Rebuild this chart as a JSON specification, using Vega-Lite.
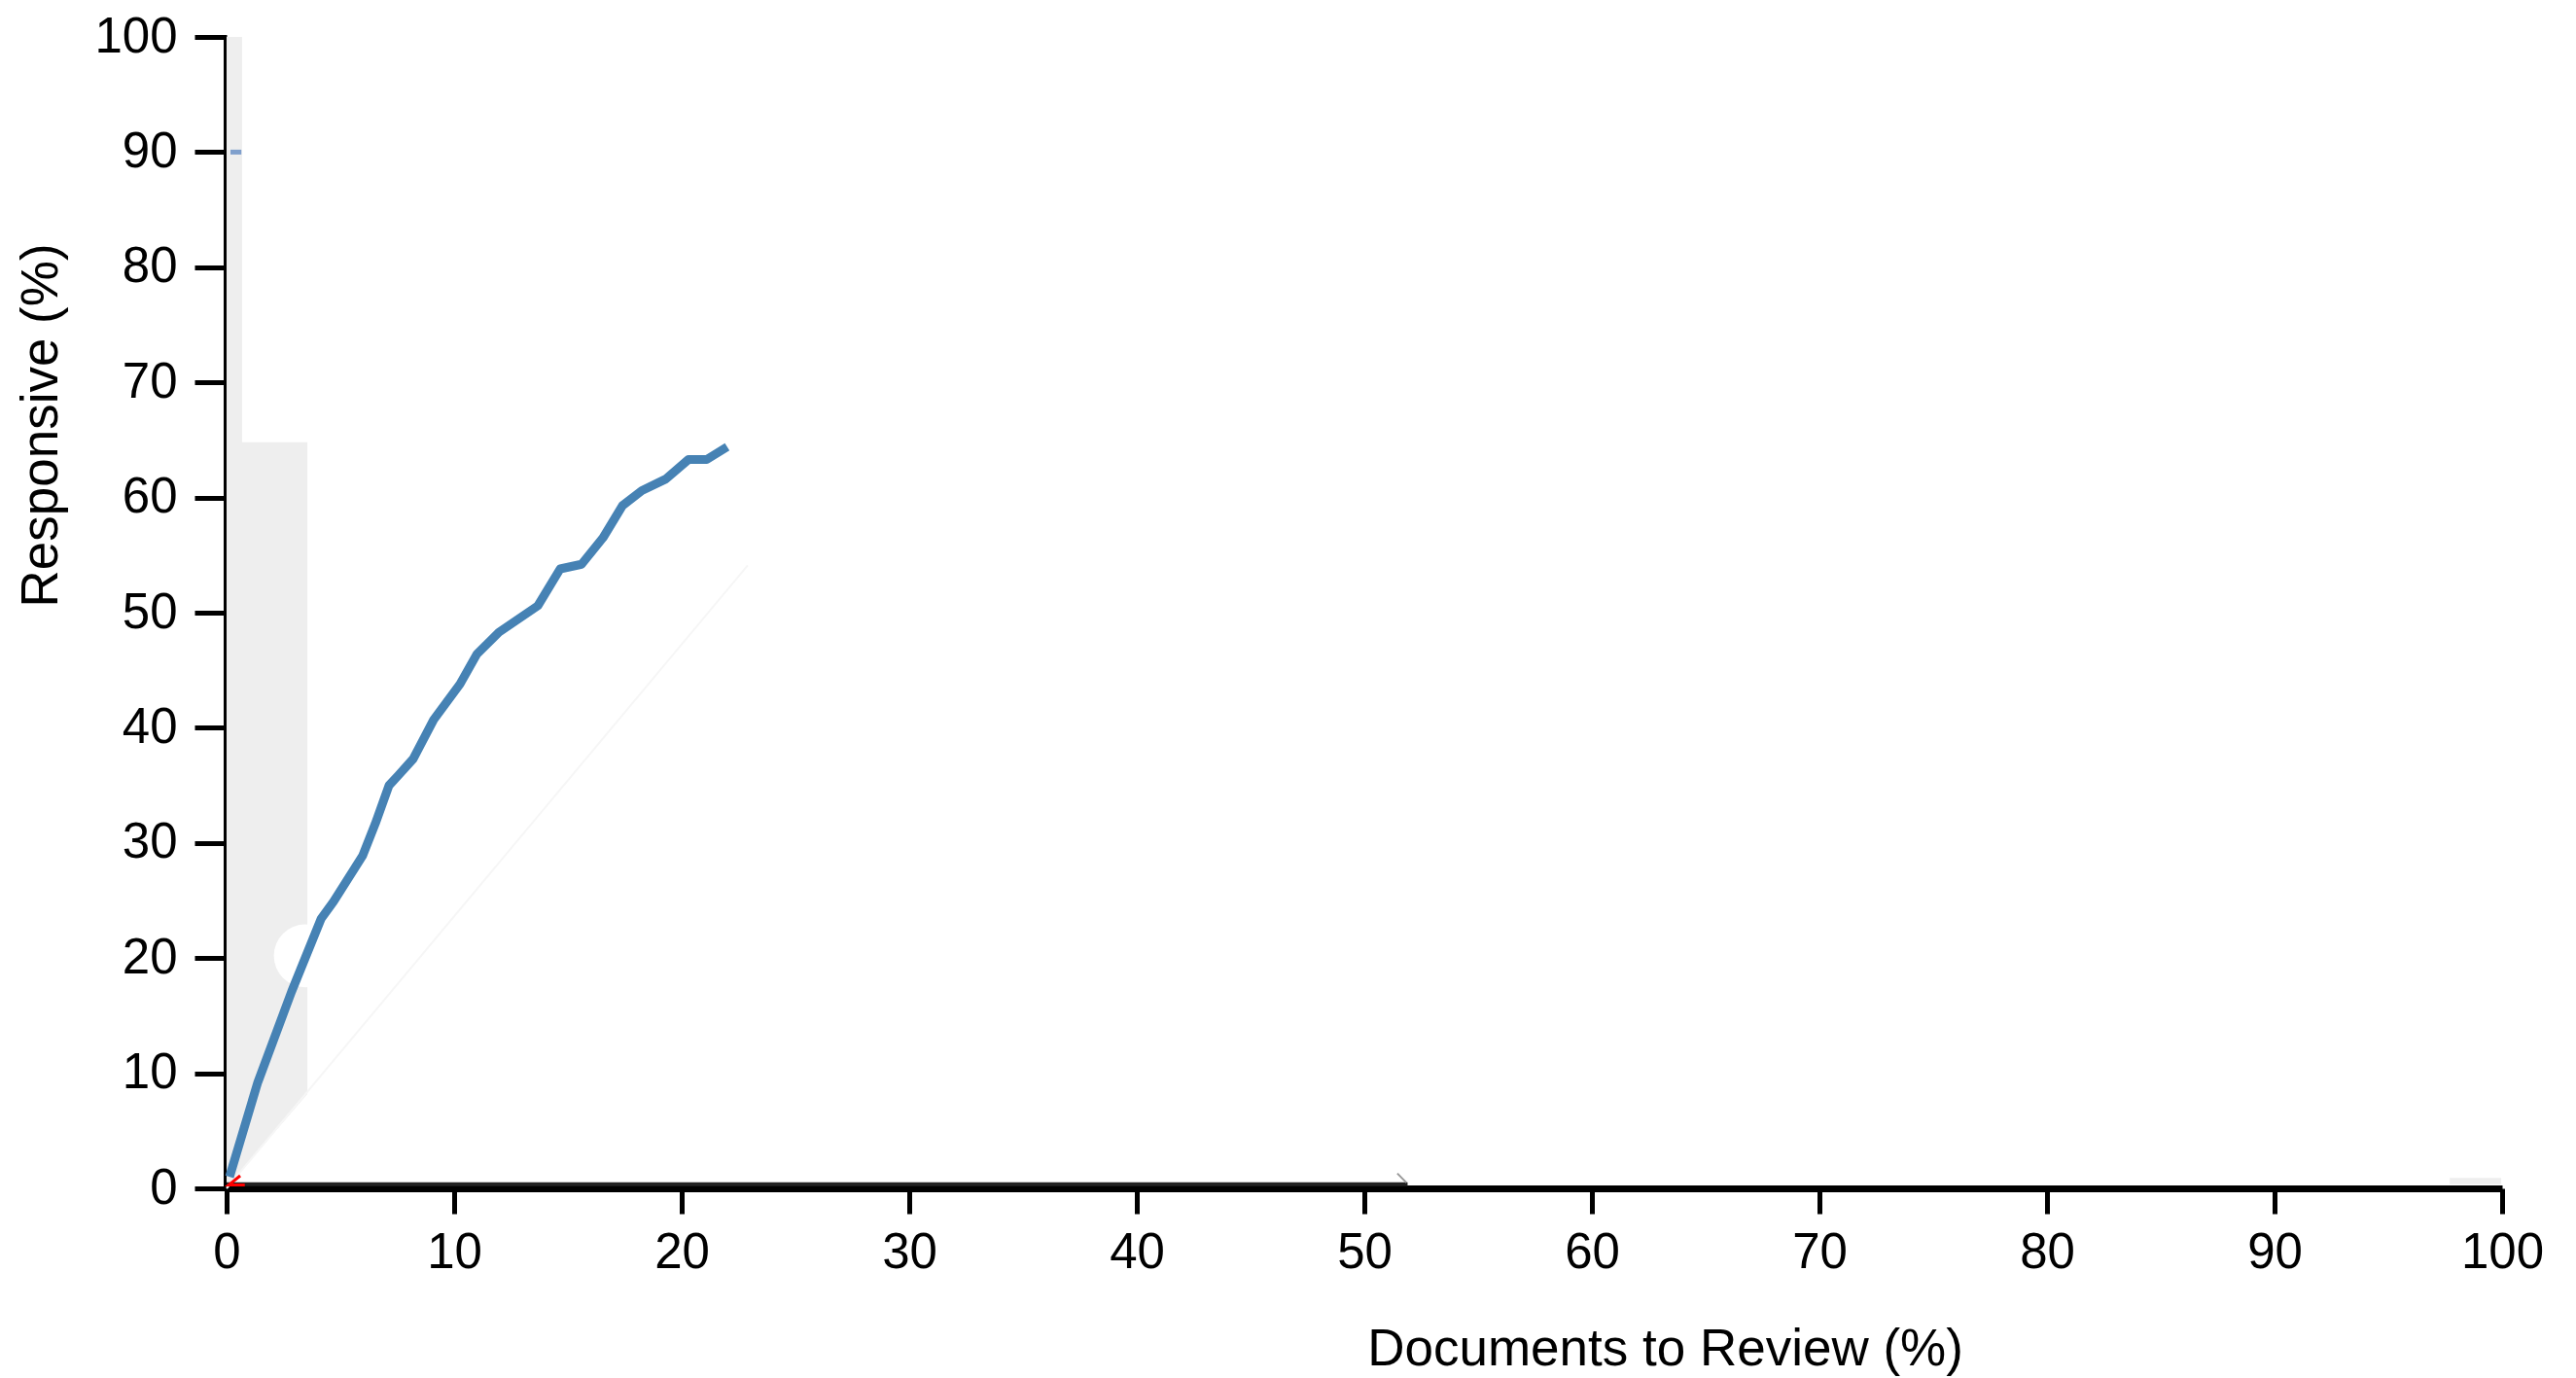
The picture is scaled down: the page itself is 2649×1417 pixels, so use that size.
{
  "$schema": "https://vega.github.io/schema/vega-lite/v6.json",
  "width": 2340,
  "height": 1184,
  "autosize": {"type": "none"},
  "padding": {"left": 233, "top": 38, "right": 76, "bottom": 195},
  "background": "white",
  "config": {
    "view": {"stroke": null},
    "axis": {
      "grid": false,
      "domainColor": "#000000",
      "tickColor": "#000000",
      "labelColor": "#000000",
      "titleColor": "#000000",
      "labelFont": "Liberation Sans",
      "titleFont": "Liberation Sans",
      "labelFontSize": 51,
      "titleFontSize": 53,
      "titleFontWeight": "normal",
      "labelFlush": false,
      "labelOverlap": false
    }
  },
  "encoding": {
    "x": {"field": "x", "type": "quantitative", "scale": {"domain": [0, 100], "nice": false},
      "title": "Documents to Review (%)",
      "axis": {"values": [0,10,20,30,40,50,60,70,80,90,100], "tickSize": 26, "labelPadding": 15,
        "domainWidth": 7, "tickWidth": 5,
        "titleX": 1479, "titleY": 165, "titleAlign": "center", "titleBaseline": "middle"}},
    "y": {"field": "y", "type": "quantitative", "scale": {"domain": [0, 100], "nice": false}, "stack": null,
      "title": "Responsive (%)",
      "axis": {"values": [0,10,20,30,40,50,60,70,80,90,100], "tickSize": 33, "labelPadding": 18,
        "domainWidth": 7, "tickWidth": 5,
        "titleX": -191, "titleY": 399, "titleAngle": -90, "titleAlign": "center", "titleBaseline": "middle"}}
  },
  "layer": [
    {
      "data": {"values": [
        {"x": 0, "y": 0, "y2": 100},
        {"x": 0.68, "y": 1.6, "y2": 100},
        {"x": 0.681, "y": 1.6, "y2": 64.8},
        {"x": 3.55, "y": 8.2, "y2": 64.8}
      ]},
      "mark": {"type": "area", "color": "#eeeeee", "opacity": 1},
      "encoding": {
        "y2": {"field": "y2"}
      }
    },
    {
      "data": {"values": [{"x": 97.7, "x2": 99.96, "y": 0.35, "y2": 0.9}]},
      "mark": {"type": "rect", "color": "#eeeeee"},
      "encoding": {
        "x2": {"field": "x2"},
        "y2": {"field": "y2"}
      }
    },
    {
      "data": {"values": [{"x": 0, "y": 0}, {"x": 22.9, "y": 54.1}]},
      "mark": {"type": "line", "color": "#f6f6f6", "strokeWidth": 2},
      "encoding": {}
    },
    {
      "data": {"values": [{"x": 3.46, "y": 20.2}]},
      "mark": {"type": "point", "shape": "circle", "filled": true, "color": "#ffffff", "opacity": 1, "size": 4185, "strokeWidth": 0},
      "encoding": {}
    },
    {
      "data": {"values": [
        {"x": 0.13, "y": 1.0}, {"x": 1.37, "y": 9.2}, {"x": 2.86, "y": 17.1}, {"x": 4.15, "y": 23.4},
        {"x": 4.7, "y": 24.9}, {"x": 5.98, "y": 28.9}, {"x": 6.54, "y": 31.7}, {"x": 7.14, "y": 35.0},
        {"x": 7.56, "y": 35.9}, {"x": 8.2, "y": 37.3}, {"x": 9.1, "y": 40.7}, {"x": 10.26, "y": 43.8},
        {"x": 11.0, "y": 46.4}, {"x": 11.97, "y": 48.3}, {"x": 13.68, "y": 50.6}, {"x": 14.66, "y": 53.8},
        {"x": 15.6, "y": 54.2}, {"x": 16.54, "y": 56.5}, {"x": 17.4, "y": 59.3}, {"x": 18.25, "y": 60.6},
        {"x": 19.3, "y": 61.6}, {"x": 20.3, "y": 63.3}, {"x": 21.1, "y": 63.3}, {"x": 22.0, "y": 64.4}
      ]},
      "mark": {"type": "line", "color": "#4682b4", "strokeWidth": 9, "strokeJoin": "round"},
      "encoding": {}
    },
    {
      "data": {"values": [{"x": 0.17, "x2": 0.65, "y": 90}]},
      "mark": {"type": "rule", "color": "#7f9fcc", "strokeWidth": 5},
      "encoding": {
        "x2": {"field": "x2"}
      }
    },
    {
      "data": {"values": [{"x": 0, "y": 0.35}, {"x": 51.9, "y": 0.35}]},
      "mark": {"type": "line", "color": "#222222", "strokeWidth": 4},
      "encoding": {}
    },
    {
      "data": {"values": [{"x": 51.45, "y": 1.3}, {"x": 51.85, "y": 0.5}]},
      "mark": {"type": "line", "color": "#999999", "strokeWidth": 2},
      "encoding": {}
    },
    {
      "data": {"values": [{"o": 1, "x": 0.8, "y": 0.3}, {"o": 2, "x": 0.1, "y": 0.3}, {"o": 3, "x": 0.6, "y": 1.1}]},
      "mark": {"type": "line", "color": "#ff0000", "strokeWidth": 3},
      "encoding": {
        "order": {"field": "o", "type": "quantitative"}
      }
    }
  ]
}
